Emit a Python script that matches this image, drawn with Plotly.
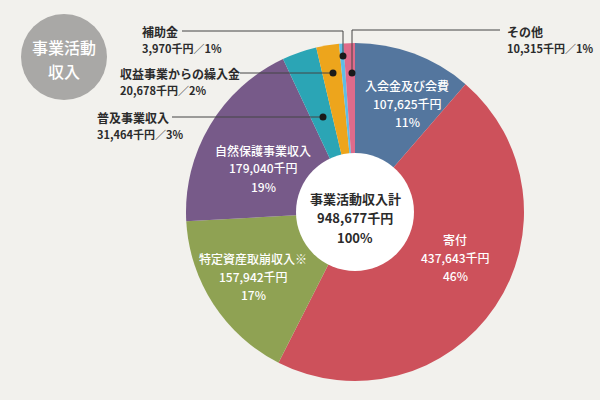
import plotly.graph_objects as go

W, H = 600, 400

# ---- data ----
categories = ["入会金及び会費", "寄付", "特定資産取崩収入※", "自然保護事業収入",
              "普及事業収入", "収益事業からの繰入金", "補助金", "その他"]
values = [107625, 437643, 157942, 179040, 31464, 20678, 3970, 10315]
percents = [11, 46, 17, 19, 3, 2, 1, 1]
total_label = "事業活動収入計"
total_value = 948677
total_pct = 100
title_lines = ["事業活動", "収入"]

colors = ["#54769e", "#cd515b", "#8fa253", "#775a89",
          "#2ba5b5", "#eda51c", "#5fbde6", "#df6b8b"]

BG = "#f2f1ed"
FONT = "Noto Sans CJK JP"
DARK = "#2b2b2b"

# pie geometry (pixels)
cx, cy, R = 355, 212, 169
hole_r = 59


def px(x):
    return x / W


def py(y):
    return 1 - y / H


fig = go.Figure()
fig.add_trace(go.Pie(
    labels=categories, values=values,
    marker=dict(colors=colors, line=dict(width=0)),
    sort=False, direction="clockwise", rotation=0,
    textinfo="none", hoverinfo="label+value+percent",
    domain=dict(x=[px(cx - R), px(cx + R)], y=[py(cy + R), py(cy - R)]),
    showlegend=False,
))

shapes = []
# white center
shapes.append(dict(type="circle", xref="paper", yref="paper",
                   x0=px(cx - hole_r), x1=px(cx + hole_r),
                   y0=py(cy + hole_r), y1=py(cy - hole_r),
                   fillcolor="white", line=dict(width=0), layer="above"))
# gray title circle
gx, gy, gr = 64, 57, 43
shapes.append(dict(type="circle", xref="paper", yref="paper",
                   x0=px(gx - gr), x1=px(gx + gr), y0=py(gy + gr), y1=py(gy - gr),
                   fillcolor="#a9a8a6", line=dict(width=0), layer="above"))


def line(pts):
    for (x0, y0), (x1, y1) in zip(pts[:-1], pts[1:]):
        shapes.append(dict(type="line", xref="paper", yref="paper",
                           x0=px(x0), y0=py(y0), x1=px(x1), y1=py(y1),
                           line=dict(color="#444", width=1), layer="above"))


def dot(x, y, r=3.5):
    shapes.append(dict(type="circle", xref="paper", yref="paper",
                       x0=px(x - r), x1=px(x + r), y0=py(y + r), y1=py(y - r),
                       fillcolor="#1a1a1a", line=dict(width=0), layer="above"))


# leader lines
line([(182, 31), (343, 31), (343, 56)]); dot(343, 56)      # 補助金
line([(240, 73), (333, 73)]); dot(333, 73)                  # 収益事業
line([(172, 117), (323, 117)]); dot(323, 117)               # 普及事業
line([(500, 30), (352, 30), (352, 73)]); dot(352, 73)       # その他

annotations = []


def text(x, y, s, size=12, color=DARK, anchor="center", weight=500):
    annotations.append(dict(x=px(x), y=py(y), xref="paper", yref="paper",
                            text=s, showarrow=False, xanchor=anchor, yanchor="middle",
                            font=dict(family=FONT, size=size, color=color, weight=weight)))


def fmt(v):
    return f"{v:,}千円"


# title in gray circle
text(gx, 47, title_lines[0], size=16, color="white")
text(gx, 71, title_lines[1], size=16, color="white")

# inside labels (white)
inside = {0: (407, 85), 1: (455, 239), 2: (253, 258), 3: (263, 150)}
for i, (x, y) in inside.items():
    text(x, y, categories[i], color="white")
    text(x, y + 18, fmt(values[i]), color="white")
    text(x, y + 36, f"{percents[i]}%", color="white")

# center total
text(cx, 198, total_label, size=13, weight=700)
text(cx, 217, fmt(total_value), size=13, weight=700)
text(cx, 237, f"{total_pct}%", size=13, weight=700)

# outside labels
outside = {6: (140, 31), 5: (118, 73), 4: (95, 117), 7: (505, 31)}
for i, (x, y) in outside.items():
    text(x, y, categories[i], anchor="left", weight=700)
    text(x, y + 17, f"{fmt(values[i])}／{percents[i]}%", anchor="left",
         weight=700, size=11)

fig.update_layout(
    width=W, height=H, margin=dict(l=0, r=0, t=0, b=0),
    paper_bgcolor=BG, plot_bgcolor=BG,
    shapes=shapes, annotations=annotations,
    font=dict(family=FONT),
)

fig.write_html("out.html")
